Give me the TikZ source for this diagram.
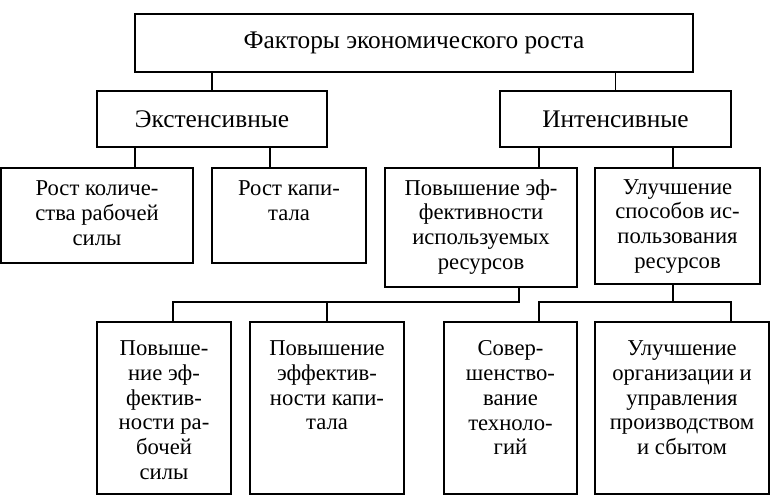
\documentclass[tikz,border=0pt]{standalone}
\usepackage{fontspec}
\setmainfont{Liberation Serif}
\usetikzlibrary{positioning}

\tikzset{every picture/.style={line width=1.4pt}}
\tikzset{
  box/.style={draw, rectangle, inner sep=0pt, align=center},
  cellbox/.style={draw, rectangle, inner sep=0pt},
}
% fixed-size cell, text set at the top (#4 = space above the text)
\newcommand{\celltxt}[4]{\parbox[c][#2][t]{#1}{\centering\fontsize{17}{18.6}\selectfont\vspace*{#4}#3}}

\begin{document}
\begin{tikzpicture}[x=0.75pt,y=0.75pt,yscale=-1,xscale=1]
\useasboundingbox (0,0) rectangle (772,496);

% Text Node
\node [box, minimum width=418.5pt, minimum height=43.5pt, font=\fontsize{19}{22}\selectfont] (top) at (414,43) {Факторы экономического роста};
% Text Node
\node [box, minimum width=172.5pt, minimum height=42pt, font=\fontsize{19}{22}\selectfont] (ext) at (212,119) {Экстенсивные};
% Text Node
\node [box, minimum width=173.25pt, minimum height=42pt, font=\fontsize{19}{22}\selectfont] (int) at (615.5,119) {Интенсивные};

%Shape: Rectangle row 2
\node [cellbox] (r1) at (97,215.5) {\celltxt{144pt}{71.25pt}{Рост количе-\\ства рабочей\\силы}{9.5pt}};
\node [cellbox] (r2) at (289,215.5) {\celltxt{115.5pt}{71.25pt}{Рост капи-\\тала}{9.5pt}};
\node [cellbox] (r3) at (481,227.5) {\celltxt{144pt}{89.25pt}{Повышение эф-\\фективности\\используемых\\ресурсов}{8.5pt}};
\node [cellbox] (r4) at (677.5,226) {\celltxt{123.75pt}{87pt}{Улучшение\\способов ис-\\пользования\\ресурсов}{8.5pt}};

%Shape: Rectangle row 3
\node [cellbox] (b1) at (164,408) {\celltxt{100.5pt}{129pt}{Повыше-\\ние эф-\\фектив-\\ности ра-\\бочей\\силы}{14pt}};
\node [cellbox] (b2) at (327,408) {\celltxt{115.5pt}{129pt}{Повышение\\эффектив-\\ности капи-\\тала}{14pt}};
\node [cellbox] (b3) at (510.5,408) {\celltxt{99.75pt}{129pt}{Совер-\\шенство-\\вание\\техноло-\\гий}{14pt}};
\node [cellbox] (b4) at (682,408) {\celltxt{130.5pt}{129pt}{Улучшение\\организации и\\управления\\производством\\и сбытом}{14pt}};

% connector points
\coordinate (c1) at (135,168);
\coordinate (c2) at (270,168);
\coordinate (c3) at (539,168);
\coordinate (c4) at (673,168);
\coordinate (h1) at (173,302);
\coordinate (h2) at (519,302);
\coordinate (h3) at (539,302);
\coordinate (h4) at (731,302);

%Straight Lines
\draw (top.south -| ext.north) -- (ext.north);
\draw (top.south -| int.north) -- (int.north);
\draw (c1 |- ext.south) -- (c1 |- r1.north);
\draw (c2 |- ext.south) -- (c2 |- r2.north);
\draw (c3 |- int.south) -- (c3 |- r3.north);
\draw (c4 |- int.south) -- (c4 |- r4.north);
\draw (h2 |- r3.south) -- (h2) -- (h1) -- (h1 |- b1.north);
\draw (b2.north |- h1) -- (b2.north);
\draw (c4 |- r4.south) -- (c4 |- h3);
\draw (h3 |- b3.north) -- (h3) -- (h4) -- (h4 |- b4.north);

\end{tikzpicture}
\end{document}
